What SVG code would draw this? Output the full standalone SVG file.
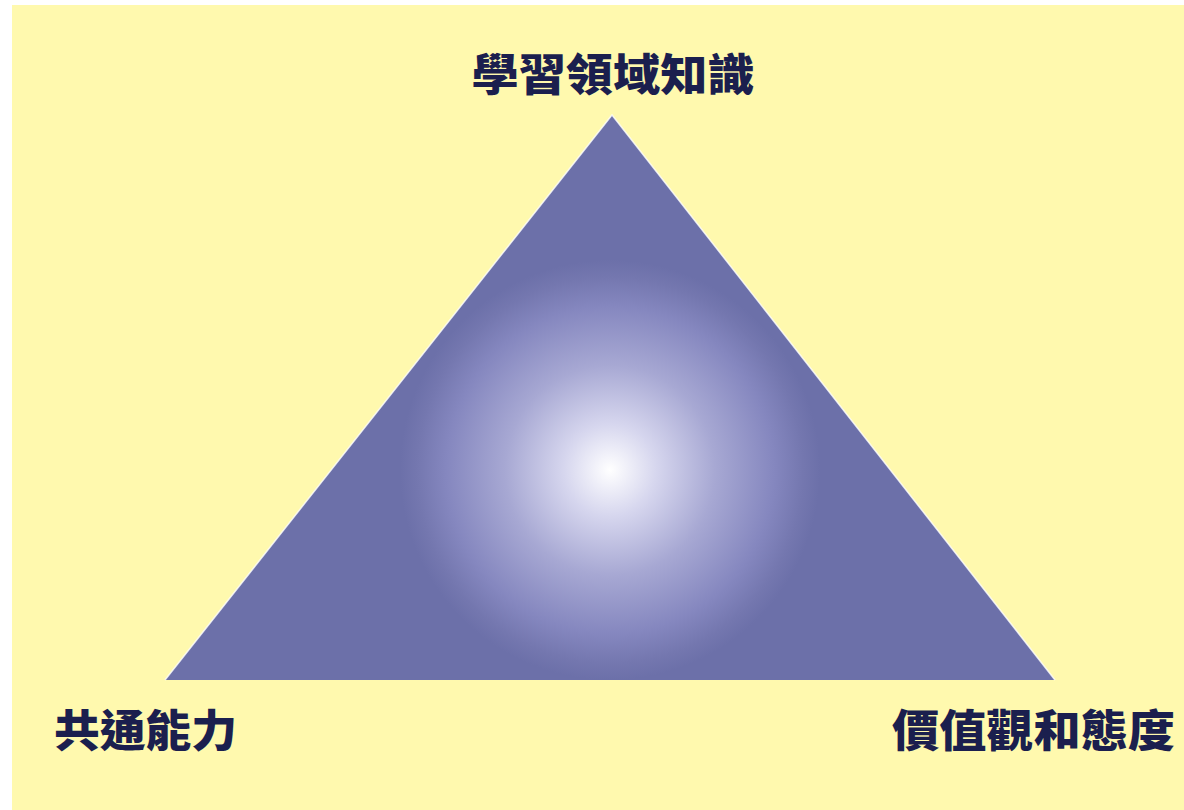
<svg xmlns="http://www.w3.org/2000/svg" width="1184" height="810" viewBox="0 0 1184 810">
  <defs>
    <radialGradient id="glow" gradientUnits="userSpaceOnUse" cx="610" cy="470" r="210">
      <stop offset="0" stop-color="#FFFFFF"/>
      <stop offset="0.22" stop-color="#D6D6EE"/>
      <stop offset="0.5" stop-color="#A7A8D3"/>
      <stop offset="0.78" stop-color="#8587BF"/>
      <stop offset="0.92" stop-color="#7477AF"/>
      <stop offset="1" stop-color="#6C70A9"/>
    </radialGradient>
    <style>
      .label { font-family: "Noto Sans CJK TC", "Noto Sans CJK SC", sans-serif; font-weight: 900; font-size: 44px; fill: #1B1F4E; }
    </style>
  </defs>
  <rect x="0" y="0" width="1184" height="810" fill="#FFFFFF"/>
  <rect x="12" y="5" width="1172" height="805" fill="#FFF9AE"/>
  <g id="triangle">
    <polygon points="612,115 165,680 1055,680" fill="url(#glow)"/>
    <polyline points="165,680 612,115 1055,680" fill="none" stroke="#FFFFFF" stroke-width="1.5" stroke-opacity="0.8"/>
  </g>
  <g id="label-top">
    <text class="label" x="613" y="91" text-anchor="middle" textLength="283" lengthAdjust="spacingAndGlyphs">學習領域知識</text>
  </g>
  <g id="label-left">
    <text class="label" x="54" y="747" textLength="183" lengthAdjust="spacingAndGlyphs">共通能力</text>
  </g>
  <g id="label-right">
    <text class="label" x="892" y="747" textLength="283" lengthAdjust="spacingAndGlyphs">價值觀和態度</text>
  </g>
</svg>
